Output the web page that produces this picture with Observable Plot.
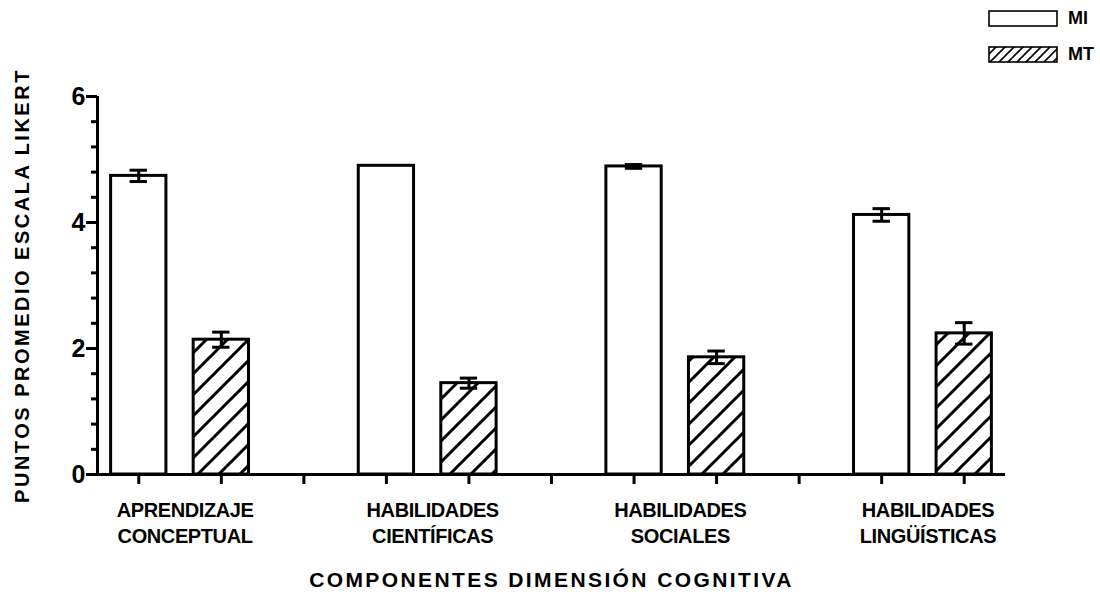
<!DOCTYPE html>
<html>
<head>
<meta charset="utf-8">
<script src="https://cdn.jsdelivr.net/npm/d3@7"></script>
<script src="https://cdn.jsdelivr.net/npm/@observablehq/plot@0.6"></script>
<style>
  html, body { margin: 0; padding: 0; background: #fff; }
  #wrap { position: relative; width: 1100px; height: 600px; font-family: "Liberation Sans", Arial, sans-serif; }
  #legend { position: absolute; left: 988px; top: 10px; font-weight: bold; font-size: 18px; }
  #legend .row { display: flex; align-items: center; height: 17px; margin-bottom: 19px; }
  #legend svg { display: block; margin-right: 10px; }
</style>
</head>
<body>
<div id="wrap">
  <div id="chart"></div>
  <div id="legend"></div>
</div>
<script>
// ---- data ----
const categories = ["APRENDIZAJE\nCONCEPTUAL", "HABILIDADES\nCIENTÍFICAS", "HABILIDADES\nSOCIALES", "HABILIDADES\nLINGÜÍSTICAS"];
const seriesNames = ["MI", "MT"];
const miMeans  = [4.74, 4.90, 4.89, 4.12];
const miErrors = [0.09, 0.00, 0.03, 0.10];
const mtMeans  = [2.14, 1.45, 1.86, 2.24];
const mtErrors = [0.12, 0.08, 0.10, 0.17];
const yMajorTicks = [0, 2, 4, 6];
const yMinorTicks = [0.4, 0.8, 1.2, 1.6, 2.4, 2.8, 3.2, 3.6, 4.4, 4.8, 5.2, 5.6];
const yTitle = "PUNTOS PROMEDIO ESCALA LIKERT";
const xTitle = "COMPONENTES DIMENSIÓN COGNITIVA";

// ---- derived table ----
const slotsPerGroup = 3; // MI, MT, gap
const rows = [];
categories.forEach((c, gi) => {
  rows.push({category: c, series: "MI", pos: gi * slotsPerGroup, mean: miMeans[gi], err: miErrors[gi]});
  rows.push({category: c, series: "MT", pos: gi * slotsPerGroup + 1, mean: mtMeans[gi], err: mtErrors[gi]});
});
const nSlots = categories.length * slotsPerGroup - 1;
const slotTicks = d3.range(nSlots);
const xDomain = [-0.5, nSlots - 0.5];
const groupCenters = categories.map((c, gi) => ({label: c, pos: gi * slotsPerGroup + 0.5}));
const half = 0.335, cap = 0.105;
const withErr = rows.filter(d => d.err > 0);
const font = "Liberation Sans, Arial, sans-serif";

const chart = Plot.plot({
  width: 1100,
  height: 600,
  marginLeft: 97,
  marginRight: 95,
  marginTop: 96,
  marginBottom: 126,
  style: {fontFamily: font, color: "black", background: "white"},
  x: {domain: xDomain, axis: null},
  y: {domain: [0, 6], axis: null},
  marks: [
    Plot.rectY(rows.filter(d => d.series === "MI"), {x1: d => d.pos - half, x2: d => d.pos + half, y: "mean", fill: "white", stroke: "black", strokeWidth: 3}),
    Plot.rectY(rows.filter(d => d.series === "MT"), {x1: d => d.pos - half, x2: d => d.pos + half, y: "mean", fill: "url(#hatch)", stroke: "black", strokeWidth: 3}),
    Plot.ruleX(withErr, {x: "pos", y1: d => d.mean - d.err, y2: d => d.mean + d.err, stroke: "black", strokeWidth: 3}),
    Plot.ruleY(withErr, {y: d => d.mean + d.err, x1: d => d.pos - cap, x2: d => d.pos + cap, stroke: "black", strokeWidth: 3}),
    Plot.ruleY(withErr, {y: d => d.mean - d.err, x1: d => d.pos - cap, x2: d => d.pos + cap, stroke: "black", strokeWidth: 3}),
    Plot.ruleY([0], {stroke: "black", strokeWidth: 3}),
    Plot.ruleX(xDomain.slice(0, 1), {stroke: "black", strokeWidth: 3}),
    Plot.axisY(yMajorTicks, {tickSize: 11, tickPadding: 1, tickFormat: d => String(d), fontSize: 25, fontWeight: "bold", strokeWidth: 3, label: null}),
    Plot.axisY(yMinorTicks, {tickSize: 6, tickFormat: () => "", strokeWidth: 3, label: null}),
    Plot.axisX(slotTicks, {tickSize: 10, tickFormat: () => "", strokeWidth: 3, label: null}),
    Plot.text(groupCenters, {x: "pos", text: "label", frameAnchor: "bottom", lineAnchor: "top", dy: 24, dx: 5, lineHeight: 1.3, fontSize: 20, fontWeight: "bold"}),
    Plot.text([xTitle], {frameAnchor: "bottom", textAnchor: "middle", lineAnchor: "top", dy: 98, fontSize: 21, fontWeight: "bold"}),
    Plot.text([yTitle], {frameAnchor: "left", textAnchor: "middle", rotate: -90, dx: -75, fontSize: 20, fontWeight: "bold"})
  ]
});

// hatch pattern definitions
d3.select(chart).insert("defs", ":first-child").html(`
  <pattern id="hatch" patternUnits="userSpaceOnUse" width="21" height="21">
    <rect width="21" height="21" fill="white"/>
    <path d="M-3,3 L3,-3 M0,21 L21,0 M18,24 L24,18" stroke="black" stroke-width="3"/>
  </pattern>
  <pattern id="hatchSmall" patternUnits="userSpaceOnUse" width="9" height="9">
    <rect width="9" height="9" fill="white"/>
    <path d="M-2,2 L2,-2 M0,9 L9,0 M7,11 L11,7" stroke="black" stroke-width="1.6"/>
  </pattern>`);
const allText = d3.select(chart).selectAll("text");
allText.attr("fill", "black");
allText.filter(function() { return this.textContent === xTitle; }).style("letter-spacing", "2.4px");
allText.filter(function() { return this.textContent === yTitle; }).style("letter-spacing", "2.5px");
allText.filter(function() { return /^(APRENDIZAJE|HABILIDADES)/.test(this.textContent); }).style("letter-spacing", "-0.4px");
d3.select(chart).selectAll('g[aria-label="y-axis tick label"]').style("font-size", "25px").style("font-weight", "bold");
document.getElementById("chart").appendChild(chart);

// legend
const legend = d3.select("#legend");
seriesNames.forEach(s => {
  const row = legend.append("div").attr("class", "row");
  const sw = row.append("svg").attr("width", 70).attr("height", 17);
  sw.append("rect").attr("x", 1).attr("y", 1).attr("width", 68).attr("height", 15)
    .attr("fill", s === "MI" ? "white" : "url(#hatchSmall)").attr("stroke", "black").attr("stroke-width", 1.6);
  row.append("span").text(s);
});
</script>
</body>
</html>
